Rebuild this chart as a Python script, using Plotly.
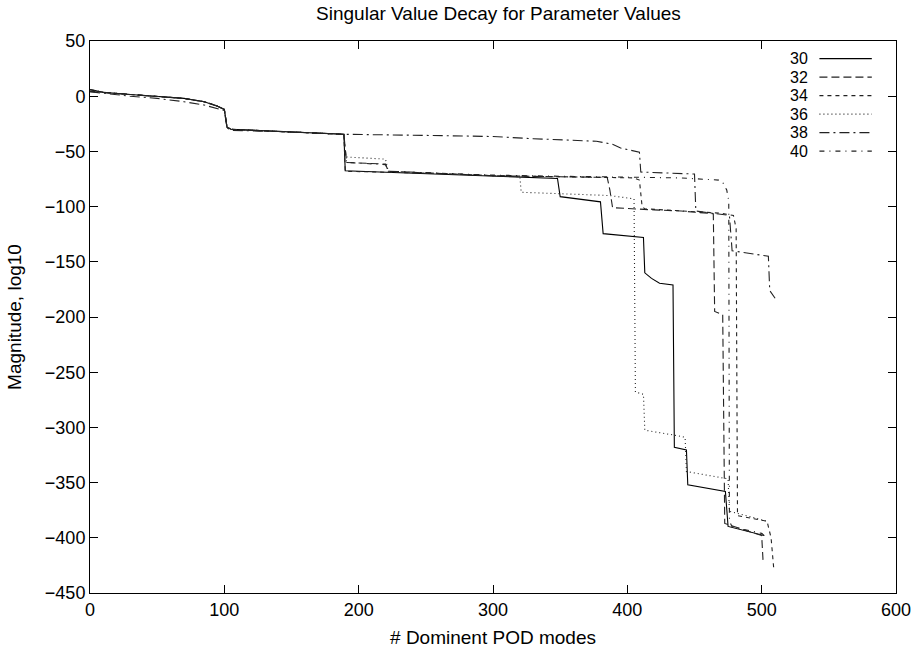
import plotly.graph_objects as go

# ---- data ----
names = ["30", "32", "34", "36", "38", "40"]

head_x = [0, 10, 30, 50, 70, 85, 95, 100, 102, 105, 140, 189]
head_y = [6, 3.5, 1.5, 0, -2, -5, -9, -12, -28, -30, -32, -34.5]

x30 = head_x + [190, 250, 300, 348, 350, 380, 382, 412, 413, 418, 424, 434, 435, 444, 445, 473, 475, 499, 502]
y30 = head_y + [-67.5, -70, -72, -74.5, -91, -95.7, -124.5, -128, -160, -165, -169.5, -171, -318, -320.5, -352, -358, -389.7, -397, -398]

x32 = head_x + [191, 220, 222, 260, 300, 350, 385, 387, 389, 420, 440, 464, 465, 471, 472.5, 490, 500, 501]
y32 = [4] + head_y[1:] + [-60, -61.5, -68, -70, -72, -73, -73.5, -85, -101, -103, -104, -106.5, -195, -198, -387, -394, -398, -420]

x34 = head_x + [190, 260, 300, 350, 405, 409, 411, 413, 440, 470, 479, 481, 482, 504, 507, 509]
y34 = head_y + [-68, -70, -72, -73, -74, -76, -100, -102, -104, -106, -108, -120, -380, -385, -400, -428]

x36 = head_x + [190, 220, 222, 260, 300, 320, 321, 387, 405, 406, 412, 413, 435, 443, 444, 475, 476, 504]
y36 = head_y + [-55, -57, -68, -70, -72, -73, -87, -90, -93, -268, -270, -302.5, -307, -309, -340, -346.6, -376, -385]

x38 = [0, 10, 30, 50, 70, 85, 95, 100, 102, 106, 140, 189, 250, 300, 330, 377, 389, 395, 409, 410, 450, 451, 476, 478, 505, 506, 510]
y38 = [4, 2.5, 0, -2, -5, -8, -11, -13, -29, -31, -32, -34.5, -35.5, -36.5, -38.5, -40.8, -43.5, -47, -50.7, -68.7, -70.5, -104, -108, -140, -145, -176, -183]

x40 = head_x + [191, 220, 222, 260, 300, 350, 400, 440, 468, 471, 474, 475.5, 476, 478, 500, 502]
y40 = [4.5] + head_y[1:] + [-60, -62, -68, -70, -71.5, -72.5, -73, -74, -76, -78, -85, -95, -385, -390, -396, -398]

xs = [x30, x32, x34, x36, x38, x40]
ys = [y30, y32, y34, y36, y38, y40]

x_ticks = [0, 100, 200, 300, 400, 500, 600]
y_ticks = [50, 0, -50, -100, -150, -200, -250, -300, -350, -400, -450]

dashes = ["solid", "8px,4px", "4px,4px", "1px,3px", "10px,4px,2px,4px", "5px,5px,1px,5px"]
colors = ["#000000", "#222222", "#222222", "#222222", "#222222", "#222222"]

FONT = "Liberation Sans, Arial, Helvetica, sans-serif"

fig = go.Figure()
for n, x, y, d, c in zip(names, xs, ys, dashes, colors):
    fig.add_trace(go.Scatter(x=x, y=y, mode="lines", name=n,
                             line=dict(color=c, width=1.1, dash=d),
                             showlegend=False))

# gnuplot-style legend: label on the left, line sample on the right
leg_top = 0.968
leg_step = 0.0335
for i, (n, d, c) in enumerate(zip(names, dashes, colors)):
    yy = leg_top - i * leg_step
    fig.add_annotation(xref="paper", yref="paper", x=0.893, y=yy, text=n,
                       showarrow=False, xanchor="right", yanchor="middle",
                       font=dict(family=FONT, size=16, color="black"))
    fig.add_shape(type="line", xref="paper", yref="paper",
                  x0=0.905, x1=0.97, y0=yy, y1=yy,
                  line=dict(color=c, width=1.1, dash=d))

axis_common = dict(showgrid=False, zeroline=False, showline=True, linecolor="black",
                   linewidth=1, mirror="ticks", ticks="inside", ticklen=8,
                   tickcolor="black", tickfont=dict(family=FONT, size=18, color="black"))

fig.update_layout(
    width=923, height=657,
    margin=dict(l=90, r=16, t=41, b=60),
    paper_bgcolor="white", plot_bgcolor="white",
    title=dict(text="Singular Value Decay for Parameter Values", x=0.54, xanchor="center",
               y=0.98, yanchor="middle", font=dict(family=FONT, size=19, color="black")),
    xaxis=dict(range=[0, 600], tickvals=x_ticks, **axis_common,
               title=dict(text="# Dominent POD modes", standoff=12,
                          font=dict(family=FONT, size=19, color="black"))),
    yaxis=dict(range=[-450, 50], tickvals=y_ticks, **axis_common,
               title=dict(text="Magnitude, log10", standoff=18,
                          font=dict(family=FONT, size=19, color="black"))),
)

fig.write_html("out.html")
